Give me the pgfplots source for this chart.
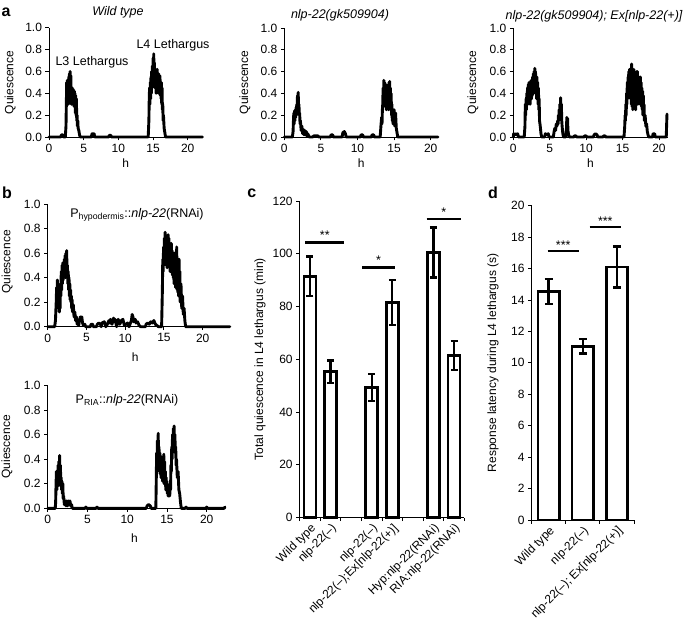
\documentclass[border=0pt]{standalone}
\usepackage{fontspec}
\setmainfont{Liberation Sans}
\usepackage{pgfplots}
\pgfplotsset{compat=1.18}
\newcommand\fs{\fontsize{12}{14}\selectfont}
\newcommand\fst{\fontsize{12.5}{14}\selectfont}
\pgfplotsset{
  base/.style={
    scale only axis, clip=false,
    axis lines*=left,
    axis line style={line width=0.9pt},
    tick align=outside,
    major tick length=3.5pt, minor tick length=3.5pt,
    tick style={line width=0.9pt, black},
    tick label style={font=\fs},
    label style={font=\fs},
    /pgf/number format/assume math mode=true,
  },
  trace/.style={base, xmin=0, ymin=0, ymax=1,
    ytick={0,0.2,0.4,0.6,0.8,1.0}, xtick={0,5,10,15,20},
    yticklabel style={/pgf/number format/fixed, /pgf/number format/fixed zerofill, /pgf/number format/precision=1},
    ylabel={Quiescence}, xlabel={h}},
  tr/.style={black, line width=2.9pt, line join=round, line cap=round, mark=none},
}
\begin{document}
\begin{tikzpicture}[x=1pt,y=1pt]
\path[use as bounding box] (0,0) rectangle (685,630);

% ---------- a1 ----------
\begin{axis}[trace, at={(49pt,493pt)}, anchor=south west, width=153.3pt, height=109.3pt, xmax=22.1,
  ylabel style={at={(axis description cs:-0.254,0.5)}, anchor=center},
  xlabel style={at={(axis description cs:0.5,0)}, anchor=center, yshift=-26pt}]
\addplot[tr] coordinates {(0,0) (1.7,0) (1.8,0.02) (2.0,0.02) (2.1,0) (2.35,0) (2.45,0.1) (2.5,0.3) (2.55,0.5) (2.6,0.3) (2.65,0.52) (2.7,0.35) (2.75,0.5) (2.8,0.3) (2.85,0.55) (2.9,0.4) (2.95,0.58) (3.0,0.45) (3.05,0.6) (3.1,0.42) (3.15,0.56) (3.2,0.3) (3.25,0.45) (3.3,0.3) (3.35,0.45) (3.4,0.32) (3.45,0.44) (3.5,0.3) (3.55,0.43) (3.6,0.28) (3.65,0.42) (3.7,0.3) (3.75,0.4) (3.8,0.22) (3.85,0.38) (3.9,0.2) (3.95,0.35) (4.0,0.15) (4.05,0.2) (4.1,0.1) (4.15,0.15) (4.2,0.08) (4.3,0.06) (4.4,0.02) (4.5,0) (6.1,0) (6.2,0.03) (6.5,0.03) (6.6,0) (8.6,0) (8.7,0.015) (8.9,0.015) (9.0,0) (14.3,0) (14.4,0.15) (14.45,0.35) (14.5,0.45) (14.55,0.3) (14.6,0.5) (14.65,0.35) (14.7,0.55) (14.75,0.4) (14.8,0.6) (14.85,0.45) (14.9,0.65) (14.95,0.5) (15.0,0.72) (15.05,0.55) (15.1,0.76) (15.15,0.5) (15.2,0.68) (15.25,0.45) (15.3,0.62) (15.35,0.45) (15.4,0.6) (15.45,0.4) (15.5,0.6) (15.55,0.45) (15.6,0.62) (15.65,0.45) (15.7,0.55) (15.75,0.4) (15.8,0.58) (15.85,0.42) (15.9,0.55) (15.95,0.4) (16.0,0.56) (16.05,0.38) (16.1,0.5) (16.15,0.35) (16.2,0.5) (16.25,0.3) (16.3,0.45) (16.35,0.25) (16.4,0.3) (16.45,0.15) (16.5,0.2) (16.6,0.08) (16.7,0.04) (16.8,0) (22.1,0)};
\end{axis}

% ---------- a2 ----------
\begin{axis}[trace, at={(284.3pt,493pt)}, anchor=south west, width=153.7pt, height=109pt, xmax=21.0,
  ylabel style={at={(axis description cs:-0.256,0.5)}, anchor=center},
  xlabel style={at={(axis description cs:0.5,0)}, anchor=center, yshift=-26pt}]
\addplot[tr] coordinates {(0,0) (1.1,0) (1.2,0.05) (1.25,0.15) (1.3,0.22) (1.35,0.12) (1.4,0.24) (1.45,0.15) (1.5,0.25) (1.55,0.18) (1.6,0.27) (1.65,0.2) (1.7,0.3) (1.75,0.22) (1.8,0.38) (1.85,0.25) (1.9,0.41) (1.95,0.25) (2.0,0.3) (2.05,0.2) (2.1,0.22) (2.15,0.12) (2.2,0.15) (2.3,0.06) (2.4,0.1) (2.5,0.03) (2.6,0.07) (2.7,0.02) (2.8,0.06) (2.9,0.02) (3.0,0.05) (3.1,0.01) (3.2,0.03) (3.4,0) (3.9,0) (4.0,0.01) (4.6,0.01) (4.7,0) (6.3,0) (6.4,0.02) (6.6,0.02) (6.7,0) (7.9,0) (8.0,0.04) (8.2,0.05) (8.35,0.03) (8.45,0) (10.4,0) (10.5,0.02) (10.7,0.02) (10.8,0) (11.9,0) (12.0,0.02) (12.2,0.02) (12.3,0) (13.1,0) (13.2,0.1) (13.3,0.18) (13.35,0.12) (13.4,0.25) (13.45,0.3) (13.5,0.45) (13.55,0.3) (13.6,0.52) (13.65,0.35) (13.7,0.5) (13.75,0.28) (13.8,0.45) (13.85,0.3) (13.9,0.48) (13.95,0.25) (14.0,0.42) (14.05,0.3) (14.1,0.45) (14.15,0.28) (14.2,0.4) (14.25,0.25) (14.3,0.5) (14.35,0.3) (14.4,0.51) (14.45,0.3) (14.5,0.45) (14.55,0.25) (14.6,0.4) (14.65,0.2) (14.7,0.3) (14.75,0.15) (14.8,0.25) (14.85,0.12) (14.9,0.24) (14.95,0.12) (15.0,0.25) (15.1,0.1) (15.2,0.22) (15.3,0.08) (15.4,0.04) (15.5,0) (21.0,0)};
\end{axis}

% ---------- a3 ----------
\begin{axis}[trace, at={(513.3pt,493pt)}, anchor=south west, width=154.4pt, height=109pt, xmax=21.2,
  ylabel style={at={(axis description cs:-0.261,0.5)}, anchor=center},
  xlabel style={at={(axis description cs:0.5,0)}, anchor=center, yshift=-26pt}]
\addplot[tr] coordinates {(0,0) (0.05,0.03) (0.2,0.02) (0.35,0.03) (0.5,0.02) (0.6,0.03) (0.7,0) (1.5,0) (1.6,0.1) (1.65,0.3) (1.7,0.2) (1.75,0.35) (1.8,0.25) (1.85,0.4) (1.9,0.3) (1.95,0.45) (2.0,0.3) (2.05,0.48) (2.1,0.32) (2.15,0.5) (2.2,0.35) (2.25,0.48) (2.3,0.3) (2.35,0.5) (2.4,0.35) (2.45,0.52) (2.5,0.35) (2.55,0.5) (2.6,0.38) (2.65,0.55) (2.7,0.4) (2.75,0.58) (2.8,0.4) (2.85,0.6) (2.9,0.45) (2.95,0.63) (3.0,0.45) (3.05,0.6) (3.1,0.4) (3.15,0.55) (3.2,0.35) (3.25,0.55) (3.3,0.35) (3.35,0.5) (3.4,0.3) (3.45,0.45) (3.5,0.25) (3.55,0.35) (3.6,0.15) (3.7,0.1) (3.8,0.03) (3.9,0) (4.3,0) (4.4,0.03) (4.6,0.02) (4.8,0.03) (4.9,0) (5.5,0) (5.6,0.05) (5.7,0.08) (5.8,0.06) (5.9,0.12) (6.0,0.1) (6.1,0.15) (6.15,0.12) (6.2,0.2) (6.25,0.15) (6.3,0.25) (6.35,0.18) (6.4,0.3) (6.45,0.22) (6.5,0.36) (6.55,0.25) (6.6,0.3) (6.65,0.15) (6.7,0.1) (6.8,0.03) (6.9,0) (7.2,0) (7.3,0.08) (7.35,0.18) (7.4,0.1) (7.45,0.17) (7.5,0.06) (7.6,0.02) (7.7,0) (8.3,0) (8.4,0.01) (8.6,0.01) (8.7,0) (9.7,0) (9.8,0.01) (10.0,0.01) (10.1,0) (11.0,0) (11.1,0.02) (11.3,0.03) (11.5,0.02) (11.6,0) (12.3,0) (12.4,0.01) (12.6,0.01) (12.7,0) (15.2,0) (15.3,0.1) (15.35,0.2) (15.4,0.15) (15.45,0.3) (15.5,0.2) (15.55,0.4) (15.6,0.3) (15.65,0.5) (15.7,0.35) (15.75,0.55) (15.8,0.4) (15.85,0.6) (15.9,0.45) (15.95,0.62) (16.0,0.4) (16.05,0.6) (16.1,0.35) (16.15,0.62) (16.2,0.3) (16.25,0.67) (16.3,0.28) (16.35,0.55) (16.4,0.25) (16.45,0.6) (16.5,0.3) (16.55,0.62) (16.6,0.35) (16.65,0.55) (16.7,0.3) (16.75,0.5) (16.8,0.25) (16.85,0.55) (16.9,0.3) (16.95,0.6) (17.0,0.35) (17.05,0.6) (17.1,0.3) (17.15,0.55) (17.2,0.35) (17.25,0.55) (17.3,0.35) (17.35,0.5) (17.4,0.3) (17.45,0.55) (17.5,0.3) (17.55,0.5) (17.6,0.28) (17.65,0.45) (17.7,0.25) (17.75,0.42) (17.8,0.2) (17.85,0.38) (17.9,0.2) (17.95,0.3) (18.0,0.15) (18.1,0.2) (18.2,0.1) (18.3,0.12) (18.4,0.05) (18.5,0.02) (18.6,0) (19.1,0) (19.2,0.03) (19.4,0.03) (19.5,0) (21.0,0) (21.1,0.21)};
\end{axis}

% ---------- b1 ----------
\begin{axis}[trace, at={(47.7pt,303.3pt)}, anchor=south west, width=182.1pt, height=122.7pt, xmax=23.5,
  ylabel style={at={(axis description cs:-0.222,0.53)}, anchor=center},
  xlabel style={at={(axis description cs:0.48,0)}, anchor=center, yshift=-30pt}]
\addplot[tr] coordinates {(0,0) (0.9,0) (1.0,0.05) (1.1,0.2) (1.15,0.32) (1.2,0.2) (1.25,0.38) (1.3,0.25) (1.35,0.35) (1.4,0.15) (1.45,0.3) (1.5,0.12) (1.55,0.28) (1.6,0.15) (1.65,0.35) (1.7,0.25) (1.75,0.45) (1.8,0.3) (1.85,0.5) (1.9,0.35) (1.95,0.52) (2.0,0.38) (2.05,0.5) (2.1,0.4) (2.15,0.55) (2.2,0.42) (2.25,0.58) (2.3,0.4) (2.35,0.6) (2.4,0.45) (2.45,0.62) (2.5,0.4) (2.55,0.5) (2.6,0.35) (2.65,0.45) (2.7,0.3) (2.75,0.4) (2.8,0.25) (2.85,0.35) (2.9,0.22) (2.95,0.3) (3.0,0.2) (3.05,0.25) (3.1,0.15) (3.15,0.22) (3.2,0.12) (3.3,0.18) (3.4,0.08) (3.5,0.12) (3.6,0.05) (3.7,0.08) (3.8,0.02) (3.9,0.04) (4.0,0.01) (4.1,0.05) (4.2,0.08) (4.3,0.06) (4.4,0.08) (4.5,0.03) (4.6,0.01) (4.8,0.02) (4.9,0) (5.5,0) (5.6,0.02) (5.8,0.02) (5.9,0) (6.3,0) (6.4,0.02) (6.6,0.03) (6.8,0.02) (6.9,0) (7.0,0.03) (7.3,0.04) (7.5,0) (7.7,0.02) (7.9,0.05) (8.0,0.03) (8.1,0.06) (8.3,0.02) (8.5,0.07) (8.6,0.04) (8.7,0.06) (8.9,0) (9.0,0.04) (9.1,0.06) (9.3,0.02) (9.5,0.05) (9.7,0.06) (9.9,0.01) (10.1,0.02) (10.3,0.03) (10.5,0) (10.8,0.05) (10.9,0.1) (11.0,0.08) (11.1,0.04) (11.3,0.06) (11.4,0.03) (11.6,0.04) (11.8,0.01) (12.0,0) (12.6,0) (12.7,0.02) (12.9,0.03) (13.1,0.02) (13.3,0.04) (13.5,0.03) (13.7,0.05) (13.9,0.02) (14.1,0.01) (14.3,0) (14.7,0) (14.8,0.3) (14.85,0.55) (14.9,0.45) (14.95,0.65) (15.0,0.5) (15.05,0.72) (15.1,0.55) (15.15,0.77) (15.2,0.55) (15.25,0.7) (15.3,0.5) (15.35,0.72) (15.4,0.48) (15.45,0.7) (15.5,0.5) (15.55,0.75) (15.6,0.55) (15.65,0.72) (15.7,0.5) (15.75,0.68) (15.8,0.45) (15.85,0.65) (15.9,0.45) (15.95,0.68) (16.0,0.48) (16.05,0.62) (16.1,0.42) (16.15,0.6) (16.2,0.4) (16.25,0.58) (16.3,0.35) (16.35,0.6) (16.4,0.38) (16.45,0.55) (16.5,0.32) (16.55,0.6) (16.6,0.35) (16.65,0.65) (16.7,0.3) (16.75,0.55) (16.8,0.28) (16.85,0.5) (16.9,0.25) (16.95,0.55) (17.0,0.25) (17.05,0.45) (17.1,0.2) (17.2,0.35) (17.3,0.15) (17.4,0.25) (17.5,0.1) (17.6,0.15) (17.7,0.05) (17.8,0) (23.5,0)};
\end{axis}

% ---------- b2 ----------
\begin{axis}[trace, at={(47.7pt,121.7pt)}, anchor=south west, width=177.3pt, height=122.9pt, xmax=22.3,
  ylabel style={at={(axis description cs:-0.23,0.5)}, anchor=center},
  xlabel style={at={(axis description cs:0.49,0)}, anchor=center, yshift=-30pt}]
\addplot[tr] coordinates {(0,0) (0.95,0) (1.0,0.05) (1.05,0.2) (1.1,0.3) (1.15,0.15) (1.2,0.28) (1.25,0.18) (1.3,0.35) (1.35,0.2) (1.4,0.38) (1.45,0.2) (1.5,0.43) (1.55,0.2) (1.6,0.35) (1.65,0.18) (1.7,0.25) (1.75,0.15) (1.8,0.22) (1.85,0.12) (1.9,0.2) (1.95,0.08) (2.0,0.1) (2.1,0.03) (2.2,0.06) (2.3,0.02) (2.4,0.06) (2.5,0.02) (2.6,0.06) (2.7,0.03) (2.8,0.06) (2.9,0.02) (3.0,0.03) (3.1,0) (4.7,0) (4.8,0.01) (4.9,0) (6.1,0) (6.2,0.01) (6.3,0) (12.4,0) (12.5,0.02) (12.7,0.03) (12.9,0.02) (13.0,0) (13.6,0) (13.65,0.2) (13.7,0.45) (13.75,0.3) (13.8,0.55) (13.85,0.35) (13.9,0.61) (13.95,0.35) (14.0,0.5) (14.05,0.3) (14.1,0.45) (14.15,0.28) (14.2,0.4) (14.25,0.25) (14.3,0.42) (14.35,0.25) (14.4,0.38) (14.45,0.22) (14.5,0.42) (14.55,0.25) (14.6,0.44) (14.65,0.2) (14.7,0.38) (14.75,0.2) (14.8,0.3) (14.85,0.15) (14.9,0.25) (14.95,0.15) (15.0,0.22) (15.05,0.12) (15.1,0.18) (15.15,0.1) (15.2,0.16) (15.25,0.1) (15.3,0.15) (15.35,0.1) (15.4,0.2) (15.45,0.15) (15.5,0.35) (15.55,0.3) (15.6,0.5) (15.65,0.4) (15.7,0.6) (15.75,0.5) (15.8,0.65) (15.85,0.55) (15.9,0.67) (15.95,0.5) (16.0,0.6) (16.05,0.45) (16.1,0.5) (16.15,0.35) (16.2,0.4) (16.3,0.25) (16.4,0.3) (16.5,0.15) (16.6,0.12) (16.7,0.05) (16.8,0) (17.3,0) (17.4,0.01) (17.5,0) (19.9,0) (20.0,0.01) (20.1,0) (22.2,0) (22.3,0.01)};
\end{axis}

% ---------- c ----------
\begin{axis}[base, ybar, bar width=12pt, at={(299.7pt,112.5pt)}, anchor=south west,
  width=164.6pt, height=316.5pt, xmin=0.5, xmax=8.5, ymin=0, ymax=120,
  ytick={0,20,40,60,80,100,120},
  xtick={1,2,4,5,7,8},
  xticklabels={Wild type, nlp-22(–), nlp-22(–), nlp-22(–);Ex[nlp-22(+)], Hyp:nlp-22(RNAi), RIA:nlp-22(RNAi)},
  minor xtick={0.5,1.5,2.5,3.5,4.5,5.5,6.5,7.5,8.5},
  major x tick style={draw=none},
  xticklabel style={rotate=45, anchor=north east, inner sep=1pt, font=\fs},
  ylabel={Total quiescence in L4 lethargus (min)},
  ylabel style={at={(axis description cs:-0.241,0.5)}, anchor=center}]
\addplot[draw=black, fill=white, line width=2.7pt,
  error bars/.cd, y dir=both, y explicit,
  error bar style={line width=2.3pt, black},
  error mark options={rotate=90, mark size=3.5pt, line width=2.3pt, black}]
  coordinates {(1,91.5) +- (0,7.5) (2,55.3) +- (0,4.2) (4,49.3) +- (0,5.2) (5,81.5) +- (0,8.5) (7,100.5) +- (0,9.5) (8,61.5) +- (0,5.5)};
\draw[line width=2.4pt] (axis cs:0.76,104.3) -- (axis cs:2.67,104.3);
\node[font=\fst, anchor=base, inner sep=0pt, yshift=2.5pt] at (axis cs:1.72,104.3) {**};
\draw[line width=2.4pt] (axis cs:3.54,94.8) -- (axis cs:5.13,94.8);
\node[font=\fst, anchor=base, inner sep=0pt, yshift=2.5pt] at (axis cs:4.33,94.8) {*};
\draw[line width=2.4pt] (axis cs:6.67,113.2) -- (axis cs:8.33,113.2);
\node[font=\fst, anchor=base, inner sep=0pt, yshift=2.5pt] at (axis cs:7.5,113.2) {*};
\end{axis}

% ---------- d ----------
\begin{axis}[base, ybar, bar width=21.4pt, at={(531.5pt,110pt)}, anchor=south west,
  width=102.5pt, height=314.3pt, xmin=0.5, xmax=3.5, ymin=0, ymax=20,
  ytick={0,2,4,6,8,10,12,14,16,18,20},
  xtick={1,2,3},
  xticklabels={Wild type, nlp-22(–), nlp-22(–); Ex[nlp-22(+)]},
  minor xtick={0.5,1.5,2.5,3.5},
  major x tick style={draw=none},
  xticklabel style={rotate=45, anchor=north east, inner sep=1pt, font=\fs},
  ylabel={Response latency during L4 lethargus (s)},
  ylabel style={at={(axis description cs:-0.376,0.5)}, anchor=center}]
\addplot[draw=black, fill=white, line width=2.7pt,
  error bars/.cd, y dir=both, y explicit,
  error bar style={line width=2.3pt, black},
  error mark options={rotate=90, mark size=4pt, line width=2.3pt, black}]
  coordinates {(1,14.55) +- (0,0.8) (2,11.05) +- (0,0.45) (3,16.1) +- (0,1.3)};
\draw[line width=2.4pt] (axis cs:0.97,17.1) -- (axis cs:1.89,17.1);
\node[font=\fst, anchor=base, inner sep=0pt, yshift=2pt] at (axis cs:1.43,17.1) {***};
\draw[line width=2.4pt] (axis cs:2.2,18.64) -- (axis cs:3.12,18.64);
\node[font=\fst, anchor=base, inner sep=0pt, yshift=2pt] at (axis cs:2.66,18.64) {***};
\end{axis}

% ---------- texts ----------
\node[font=\fontsize{16}{18}\selectfont\bfseries] at (6,618) {a};
\node[font=\fontsize{16}{18}\selectfont\bfseries] at (7,437) {b};
\node[font=\fontsize{16}{18}\selectfont\bfseries] at (251.7,437) {c};
\node[font=\fontsize{16}{18}\selectfont\bfseries] at (493,437) {d};
\node[font=\fst\itshape] at (118,618) {Wild type};
\node[font=\fst\itshape] at (340,615) {nlp-22(gk509904)};
\node[font=\fst\itshape] at (594,614) {nlp-22(gk509904); Ex[nlp-22(+)]};
\node[font=\fst] at (92,568) {L3 Lethargus};
\node[font=\fst] at (173,585) {L4 Lethargus};
\node[font=\fst] at (137,415) {P\textsubscript{hypodermis}::\textit{nlp-22}(RNAi)};
\node[font=\fst] at (127,230) {P\textsubscript{RIA}::\textit{nlp-22}(RNAi)};
\end{tikzpicture}
\end{document}
